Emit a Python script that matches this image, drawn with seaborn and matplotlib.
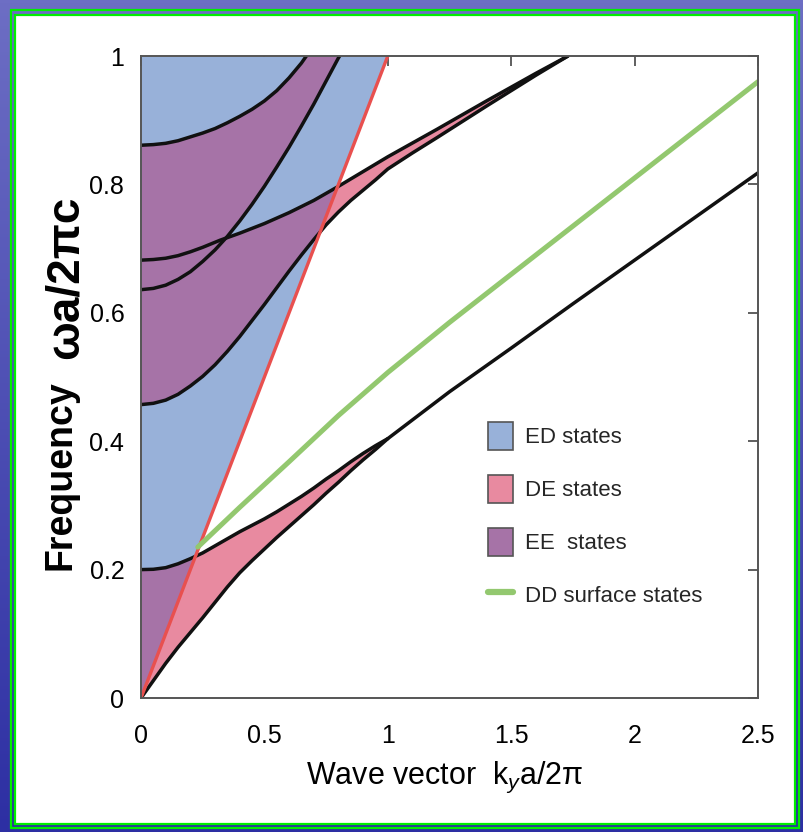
import numpy as np
import pandas as pd
import matplotlib
matplotlib.use("Agg")
import matplotlib.pyplot as plt
import seaborn as sns
from matplotlib.patches import Patch, Rectangle
from matplotlib.lines import Line2D

# ---------------- data ----------------
k_A = [0, 0.05, 0.1, 0.15, 0.2, 0.25, 0.3, 0.35, 0.4, 0.45, 0.5, 0.55, 0.6, 0.65, 0.67]
f_A = [0.861, 0.862, 0.864, 0.868, 0.874, 0.880, 0.887, 0.896, 0.906, 0.917, 0.930,
       0.946, 0.966, 0.989, 1.0]

k_B = [0, 0.05, 0.1, 0.15, 0.2, 0.25, 0.3, 0.35, 0.4, 0.45, 0.5, 0.55, 0.6, 0.65,
       0.7, 0.75, 0.8, 0.805]
f_B = [0.636, 0.638, 0.643, 0.652, 0.664, 0.680, 0.698, 0.719, 0.743, 0.769, 0.797,
       0.827, 0.858, 0.891, 0.925, 0.961, 0.997, 1.0]

k_C = [0, 0.05, 0.1, 0.15, 0.2, 0.25, 0.32, 0.4, 0.5, 0.6, 0.7, 0.8, 0.9, 1.0,
       1.2, 1.4, 1.6, 1.73]
f_C = [0.682, 0.683, 0.685, 0.689, 0.695, 0.702, 0.713, 0.724, 0.739, 0.756, 0.775,
       0.797, 0.820, 0.843, 0.886, 0.930, 0.973, 1.0]

k_D = [0, 0.05, 0.1, 0.15, 0.2, 0.25, 0.3, 0.35, 0.4, 0.45, 0.5, 0.55, 0.6, 0.65,
       0.7, 0.75, 0.8, 0.85, 0.9, 0.95, 1.0, 1.1, 1.2, 1.4, 1.6, 1.73]
f_D = [0.457, 0.459, 0.464, 0.473, 0.486, 0.501, 0.519, 0.540, 0.563, 0.588, 0.613,
       0.639, 0.665, 0.690, 0.714, 0.737, 0.757, 0.775, 0.791, 0.807, 0.824, 0.849,
       0.873, 0.922, 0.970, 1.0]

k_U = [0, 0.05, 0.1, 0.15, 0.2, 0.25, 0.3, 0.35, 0.4, 0.45, 0.5, 0.55, 0.6, 0.65,
       0.7, 0.75, 0.8, 0.85, 0.9, 0.95, 1.0]
f_U = [0.2, 0.2005, 0.203, 0.209, 0.217, 0.226, 0.237, 0.248, 0.259, 0.269, 0.279,
       0.290, 0.302, 0.314, 0.327, 0.341, 0.354, 0.368, 0.381, 0.393, 0.404]

k_L = [0, 0.05, 0.1, 0.15, 0.2, 0.25, 0.3, 0.35, 0.4, 0.45, 0.5, 0.55, 0.6, 0.65,
       0.7, 0.75, 0.8, 0.85, 0.9, 0.95, 1.0, 1.25, 1.5, 1.75, 2.0, 2.25, 2.5]
f_L = [0, 0.027, 0.054, 0.079, 0.102, 0.125, 0.149, 0.173, 0.195, 0.214, 0.232,
       0.250, 0.267, 0.284, 0.301, 0.319, 0.336, 0.354, 0.371, 0.387, 0.404,
       0.477, 0.545, 0.614, 0.682, 0.750, 0.818]

k_light = [0, 1.0]
f_light = [0, 1.0]

k_DD = [0.23, 0.4, 0.6, 0.8, 1.0, 1.25, 1.5, 1.75, 2.0, 2.25, 2.5]
f_DD = [0.235, 0.297, 0.368, 0.44, 0.507, 0.585, 0.66, 0.735, 0.81, 0.885, 0.96]

x_ticks = [0, 0.5, 1, 1.5, 2, 2.5]
x_ticklabels = ["0", "0.5", "1", "1.5", "2", "2.5"]
y_ticks = [0, 0.2, 0.4, 0.6, 0.8, 1]
y_ticklabels = ["0", "0.2", "0.4", "0.6", "0.8", "1"]

x_title = "Wave vector  k$_{\\mathit{y}}$a/2\u03c0"
y_title_word = "Frequency"
y_title_unit = "\u03c9a/2\u03c0c"

legend_labels = ["ED states", "DE states", "EE  states", "DD surface states"]

# ---------------- style ----------------
C_BLUE = "#98b1d9"
C_PURPLE = "#a673a7"
C_PINK = "#e88aa0"
C_GREEN = "#93c86f"
C_RED = "#e8504f"

sns.set_theme(style="white")
FONT = ["Liberation Sans", "DejaVu Sans"]
plt.rcParams["font.family"] = FONT
plt.rcParams["mathtext.fontset"] = "custom"
plt.rcParams["mathtext.rm"] = "Liberation Sans"
plt.rcParams["mathtext.it"] = "Liberation Sans:italic"

W, H = 804, 832
fig = plt.figure(figsize=(W / 100, H / 100), dpi=100)

# slide background (blue gradient) + green frame + white panel
bg = fig.add_axes([0, 0, 1, 1], zorder=-10)
grad = np.linspace(0, 1, 256)[:, None] * np.ones((1, 16))
cmap = matplotlib.colors.LinearSegmentedColormap.from_list("bg", ["#6d6ec4", "#2d2fa3"])
bg.imshow(grad, aspect="auto", cmap=cmap, extent=[0, W, H, 0])
bg.set_xlim(0, W)
bg.set_ylim(H, 0)
bg.axis("off")
bg.add_patch(Rectangle((11, 10), 788, 818, fill=False, ec="#00ee00", lw=1.6))
bg.add_patch(Rectangle((15, 15), 780, 809, fc="white", ec="#00ee00", lw=1.6))

ax = fig.add_axes([141 / W, 1 - 698 / H, 617 / W, 642 / H])
ax.set_facecolor("white")

# ---------------- fills ----------------
kk = np.linspace(0, 2.5, 5001)

def on(kx, fx):
    v = np.interp(kk, kx, fx)
    v[(kk < kx[0]) | (kk > kx[-1])] = np.nan
    return v

A_top = np.where(kk <= k_A[-1], np.interp(kk, k_A, f_A), 1.0)
B = on(k_B, f_B)
Cc = on(k_C, f_C)
D = on(k_D, f_D)
U = on(k_U, f_U)
L = on(k_L, f_L)
light = on(k_light, f_light)

m = kk <= 1.0
lo_blue = np.fmax(U, light)
ax.fill_between(kk[m], lo_blue[m], 1.0, color=C_BLUE, lw=0, zorder=1)
ax.fill_between(kk, light, U, where=(U >= light), interpolate=True, color=C_PURPLE, lw=0, zorder=2)
lo_mid = np.fmax(D, light)
ax.fill_between(kk, lo_mid, Cc, where=(Cc >= lo_mid), interpolate=True, color=C_PURPLE, lw=0, zorder=2)
mb = kk <= k_B[-1]
ax.fill_between(kk[mb], B[mb], A_top[mb], where=(A_top[mb] >= B[mb]), interpolate=True,
                color=C_PURPLE, lw=0, zorder=2)
kl = np.where(kk <= 1.0, kk, np.nan)
hi_low = np.fmin(U, kl)
ax.fill_between(kk, L, hi_low, where=(hi_low >= L), interpolate=True, color=C_PINK, lw=0, zorder=2)
hi_up = np.where(kk <= 1.0, np.fmin(Cc, kk), Cc)
ax.fill_between(kk, D, hi_up, where=(hi_up >= D), interpolate=True, color=C_PINK, lw=0, zorder=2)

# ---------------- lines ----------------
lw_black = 2.5
for kx, fx in [(k_A, f_A), (k_B, f_B), (k_C, f_C), (k_D, f_D), (k_U, f_U), (k_L, f_L)]:
    sns.lineplot(x=kx, y=fx, ax=ax, color="#111111", lw=lw_black, sort=False,
                 estimator=None, zorder=4, solid_capstyle="round")
sns.lineplot(x=k_light, y=f_light, ax=ax, color=C_RED, lw=2.4, sort=False, estimator=None, zorder=5)
sns.lineplot(x=k_DD, y=f_DD, ax=ax, color=C_GREEN, lw=3.6, sort=False, estimator=None, zorder=5)

# ---------------- axes ----------------
ax.set_xlim(0, 2.5)
ax.set_ylim(0, 1)
ax.set_xticks(x_ticks)
ax.set_xticklabels(x_ticklabels)
ax.set_yticks(y_ticks)
ax.set_yticklabels(y_ticklabels)
ax.tick_params(direction="in", length=7, width=1.2, color="#444444",
               top=True, right=True, labelsize=18, labelcolor="black")
ax.tick_params(axis="x", pad=19)
ax.tick_params(axis="y", pad=12)
for sp in ax.spines.values():
    sp.set_color("#555555")
    sp.set_linewidth(1.4)
    sp.set_zorder(6)

ax.set_xlabel(x_title, fontsize=22, color="black")
ax.xaxis.set_label_coords(0.493, -0.097)
ax.set_ylabel(y_title_word, fontsize=27, color="black", fontweight="bold")
ax.yaxis.set_label_coords(-0.102, 0.347)
ax.text(-0.1215, 0.655, y_title_unit, transform=ax.transAxes, rotation=90,
        ha="center", va="center", fontsize=33, fontweight="bold", color="black")

handles = [Patch(fc=C_BLUE, ec="#555555", lw=1.2),
           Patch(fc=C_PINK, ec="#555555", lw=1.2),
           Patch(fc=C_PURPLE, ec="#555555", lw=1.2),
           Line2D([0], [0], color=C_GREEN, lw=4.5)]
ax.legend(handles, legend_labels, loc="upper left", bbox_to_anchor=(0.563, 0.43),
          frameon=False, fontsize=16, handlelength=1.1, handleheight=1.6,
          labelspacing=1.1, handletextpad=0.55, borderpad=0, borderaxespad=0)

fig.savefig("out.png", dpi=100)
